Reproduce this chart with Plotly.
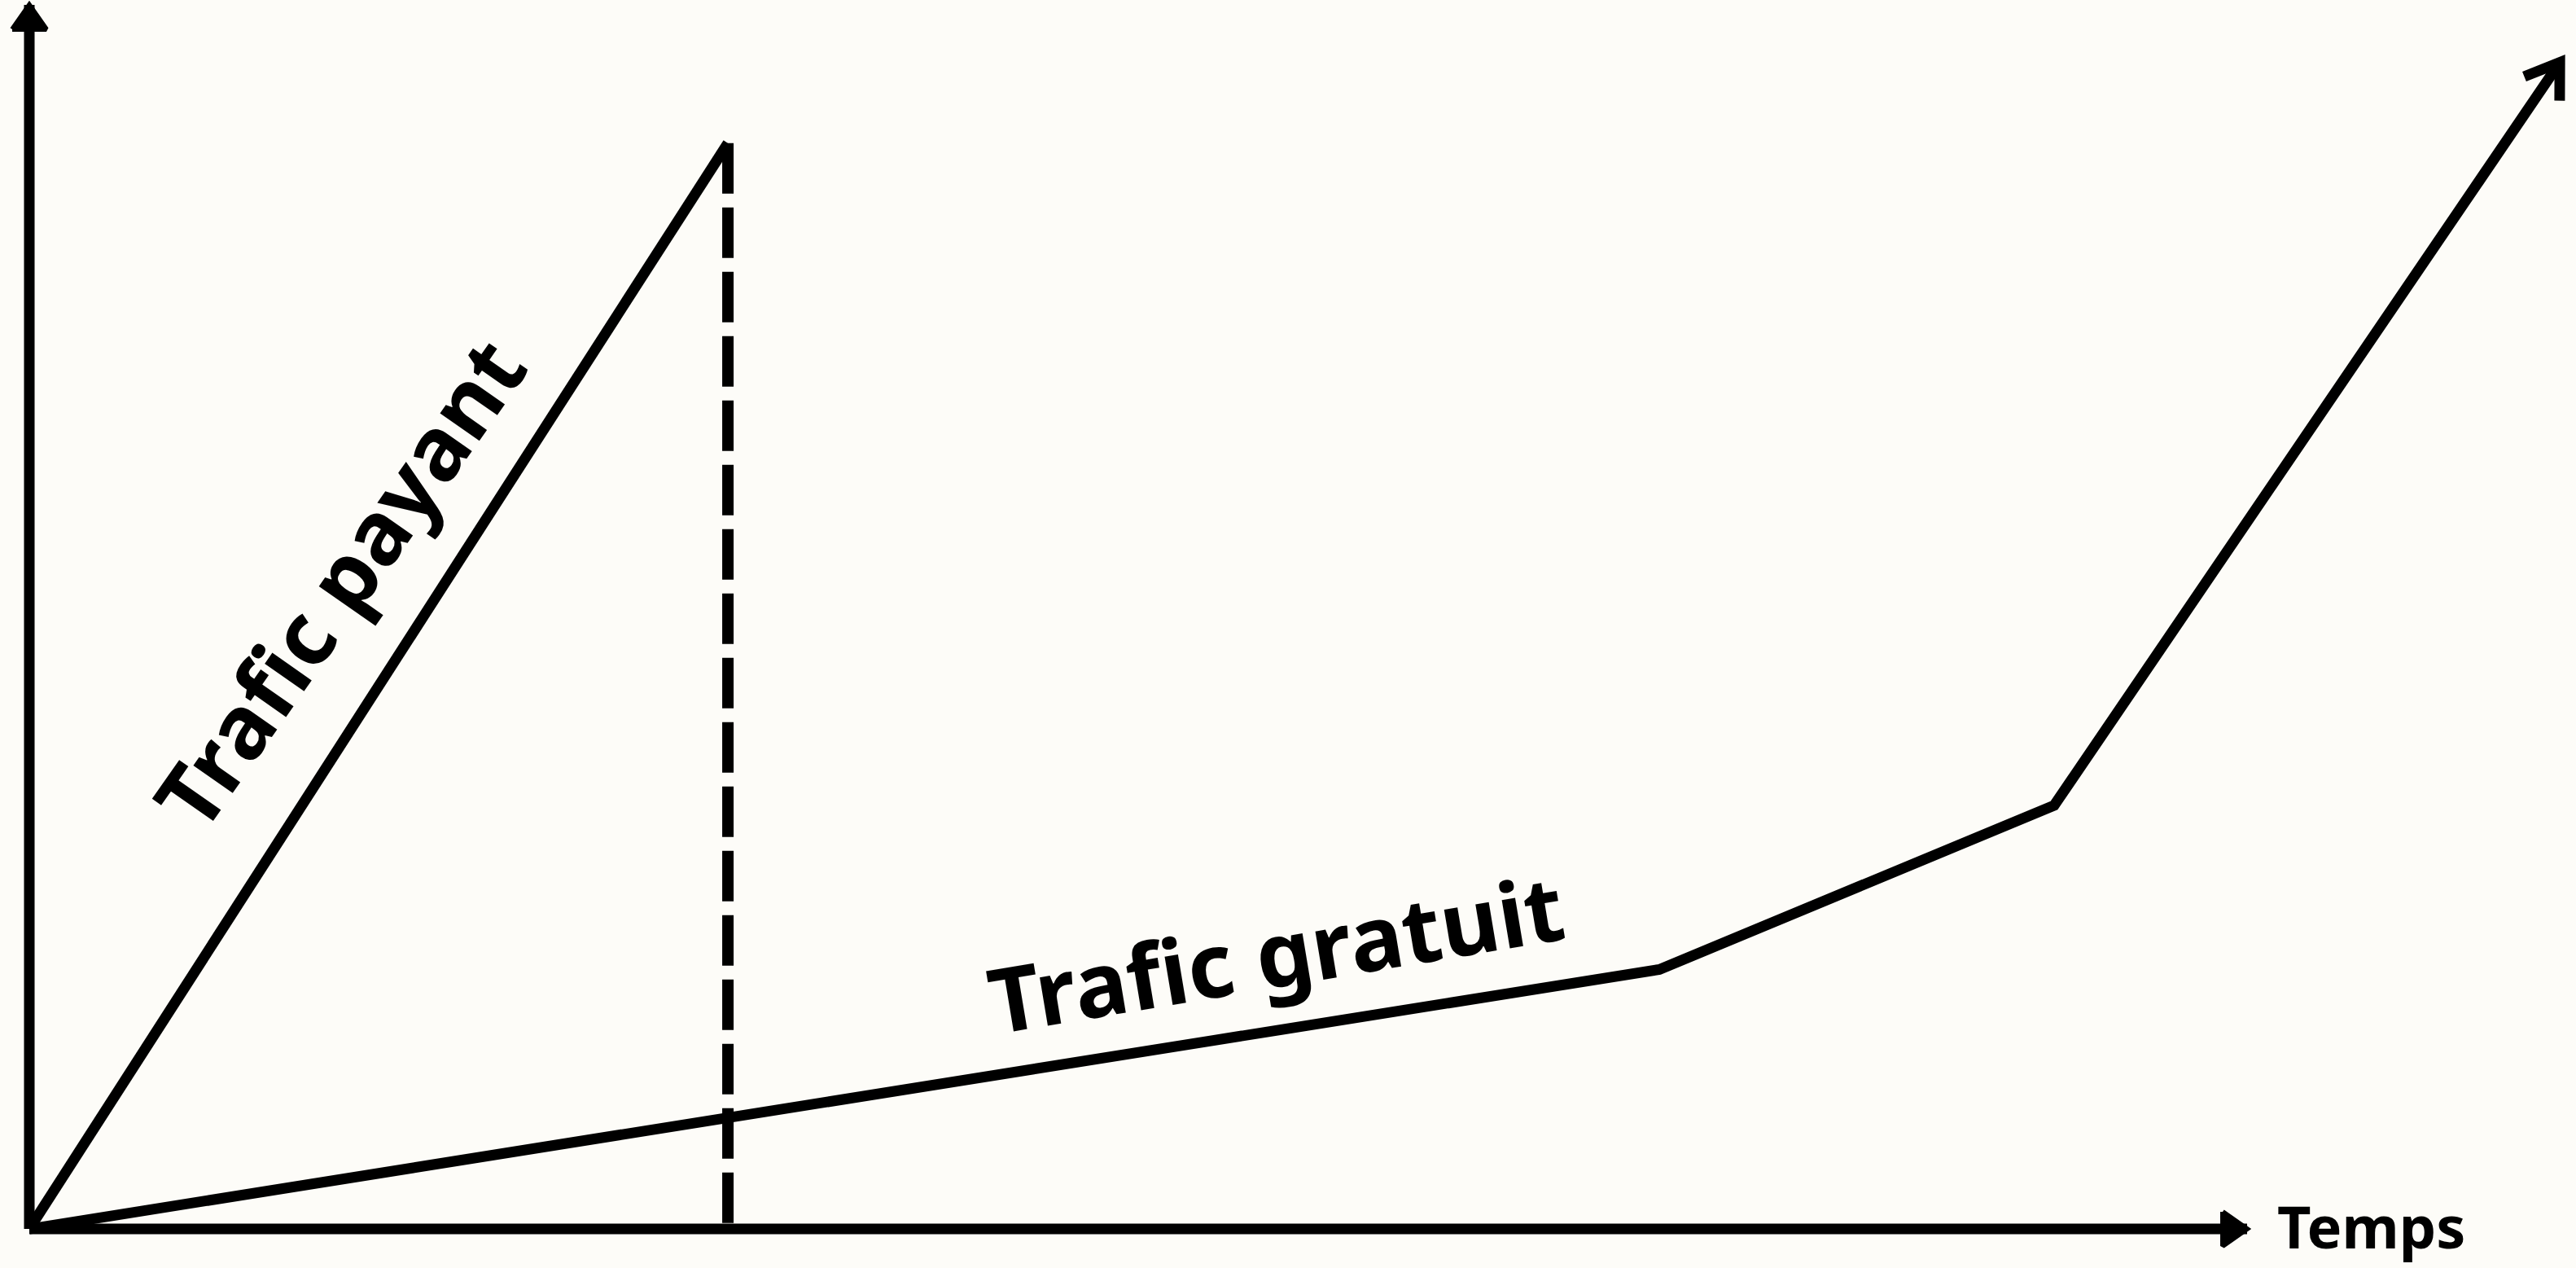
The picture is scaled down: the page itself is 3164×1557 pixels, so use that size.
import math
import plotly.graph_objects as go

W, H = 3164, 1557

# Conceptual values (time on x, traffic on y; both axes run 0..100)
axis_end_t = 100
axis_end_v = 100
paid_t = [0, 31.5]
paid_v = [0, 88.7]
free_t = [0, 73.5, 91.3, 114.1]
free_v = [0, 21.2, 34.6, 95.3]

label_paid = "Trafic payant"
label_free = "Trafic gratuit"
label_time = "Temps"

INK = "#000000"
PAPER = "#fdfcf8"
FONT = "Noto Sans"

x_range = [-1.3216, 114.83]
y_range = [-3.19, 100.4]
sx = W / (x_range[1] - x_range[0])   # px per time unit
sy = H / (y_range[1] - y_range[0])   # px per traffic unit


def arrow_head(tip_t, tip_v, from_t, from_v, length, half, closed):
    """Arrow head at (tip_t, tip_v) pointing away from (from_t, from_v),
    sized in screen pixels and returned in data units."""
    dx = (tip_t - from_t) * sx
    dy = (tip_v - from_v) * sy
    n = math.hypot(dx, dy)
    ux, uy = dx / n, dy / n
    px, py = -uy, ux
    bx, by = -ux * length, -uy * length
    a = (bx + px * half, by + py * half)
    b = (bx - px * half, by - py * half)
    pts = [a, (0.0, 0.0), b] + ([a] if closed else [])
    return ([tip_t + p[0] / sx for p in pts], [tip_v + p[1] / sy for p in pts])


fig = go.Figure()

line_w = 13

# axes
fig.add_trace(go.Scatter(x=[0, 0], y=[0, axis_end_v], mode="lines",
                         line=dict(color=INK, width=line_w)))
fig.add_trace(go.Scatter(x=[0, axis_end_t], y=[0, 0], mode="lines",
                         line=dict(color=INK, width=line_w)))

# paid traffic: steep rise, then cut off (dashed drop)
fig.add_trace(go.Scatter(x=paid_t, y=paid_v, mode="lines",
                         line=dict(color=INK, width=line_w)))
fig.add_trace(go.Scatter(x=[paid_t[-1], paid_t[-1]], y=[paid_v[-1], 0], mode="lines",
                         line=dict(color=INK, width=14, dash="62px,17px")))

# free traffic: slow start, then accelerating
fig.add_trace(go.Scatter(x=free_t, y=free_v, mode="lines",
                         line=dict(color=INK, width=line_w)))

# filled arrow heads on both axes
for hx, hy in (arrow_head(0, axis_end_v, 0, 0, 30, 21, True),
               arrow_head(axis_end_t, 0, 0, 0, 30, 21, True)):
    fig.add_trace(go.Scatter(x=hx, y=hy, mode="lines", fill="toself",
                             fillcolor=INK, line=dict(color=INK, width=6)))

# open chevron at the end of the free traffic curve
cx, cy = arrow_head(free_t[-1], free_v[-1], free_t[-2], free_v[-2],
                    47 * math.cos(math.radians(34)), 47 * math.sin(math.radians(34)), False)
fig.add_trace(go.Scatter(x=cx, y=cy, mode="lines", line=dict(color=INK, width=line_w)))

fig.add_annotation(x=13.95, y=52.8, text=label_paid, showarrow=False, textangle=-55,
                   font=dict(family=FONT, size=108, color=INK, weight="bold"),
                   xanchor="center", yanchor="middle")
fig.add_annotation(x=56.2, y=22.6, text=label_free, showarrow=False, textangle=-9.5,
                   font=dict(family=FONT, size=110, color=INK, weight="bold"),
                   xanchor="center", yanchor="middle")
fig.add_annotation(x=105.6, y=0.3, text=label_time, showarrow=False,
                   font=dict(family=FONT, size=72, color=INK, weight="bold"),
                   xanchor="center", yanchor="middle")

axis_style = dict(visible=False, showgrid=False, zeroline=False, fixedrange=True)
fig.update_layout(
    width=W, height=H,
    margin=dict(l=0, r=0, t=0, b=0, pad=0),
    paper_bgcolor=PAPER, plot_bgcolor=PAPER,
    showlegend=False, hovermode=False,
    xaxis=dict(range=x_range, domain=[0, 1], **axis_style),
    yaxis=dict(range=y_range, domain=[0, 1], **axis_style),
)

fig.write_html("out.html")
